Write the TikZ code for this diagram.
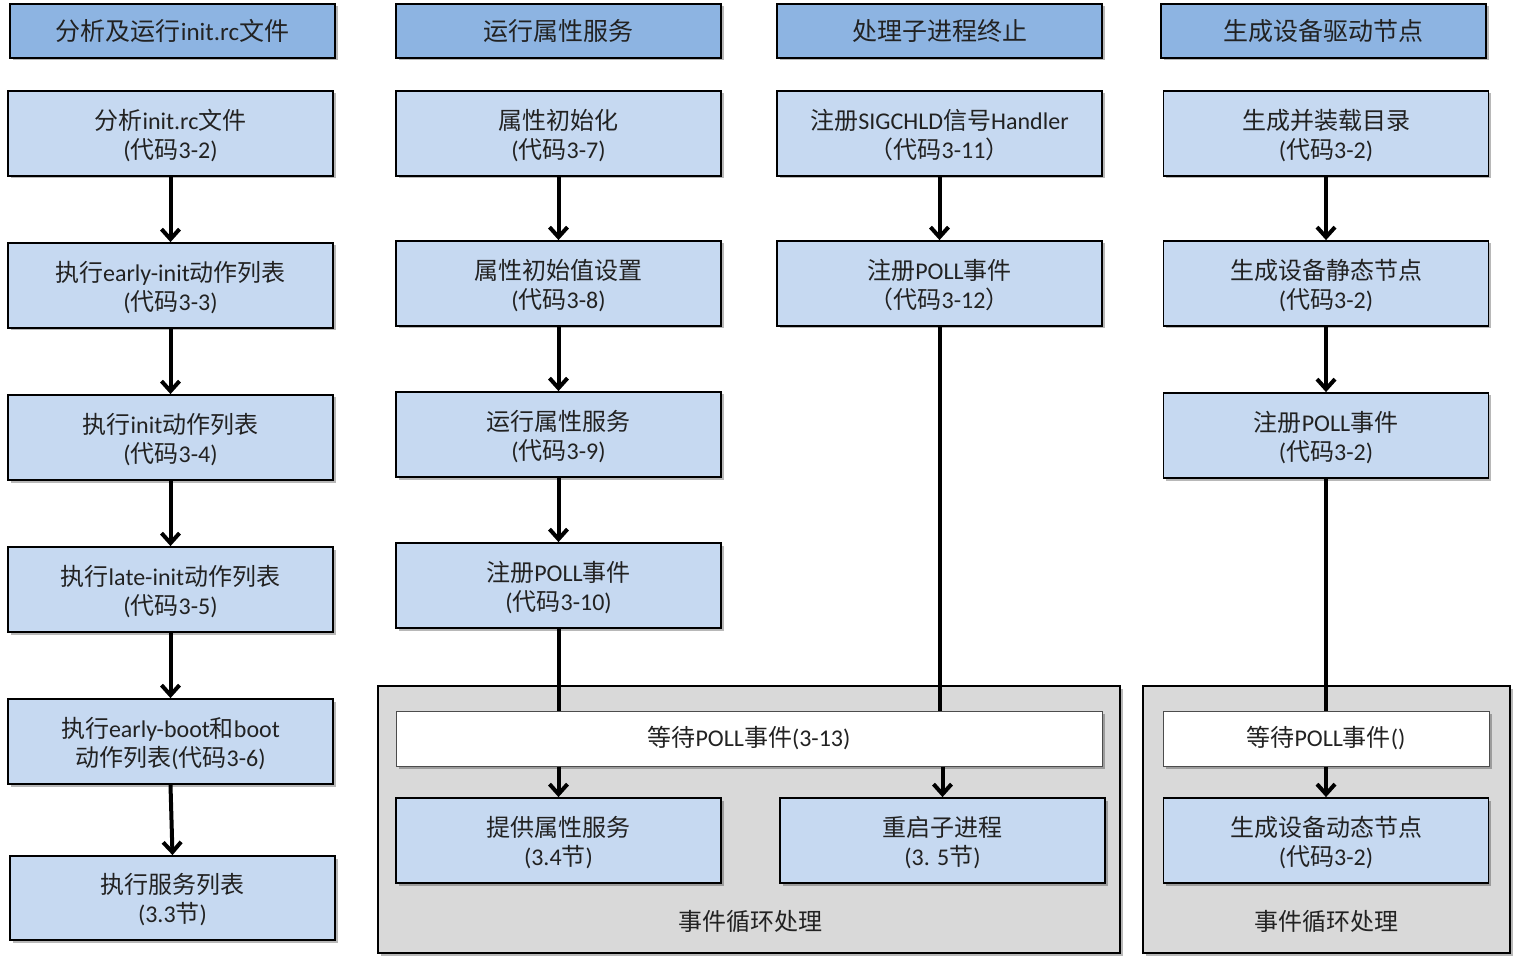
\documentclass[tikz,border=0pt]{standalone}
\usepackage{fontspec}
\setmainfont{Carlito}
\newfontfamily\zh{Noto Sans CJK SC}
\newcommand\Z[1]{{\zh #1}}
\usetikzlibrary{arrows.meta,shadows}
\definecolor{hdrblue}{HTML}{8DB4E2}
\definecolor{boxblue}{HTML}{C6D9F1}
\definecolor{grpgray}{HTML}{D9D9D9}
\definecolor{txt}{HTML}{222222}
\tikzset{
  shad/.style={drop shadow={shadow xshift=2.5pt,shadow yshift=-2.5pt,fill=black,opacity=0.28}},
  hdr/.style={draw=black,line width=1.8pt,fill=hdrblue,shad,minimum width=325pt,minimum height=54pt,
    inner sep=0pt,text=txt,font=\fontsize{25}{30}\selectfont},
  stepbox/.style={draw=black,line width=1.8pt,fill=boxblue,shad,minimum width=325pt,minimum height=85pt,
    inner sep=0pt,align=center,text=txt,font=\fontsize{24}{29}\selectfont,text depth=-2pt},
  waitbox/.style={draw=black!70,line width=1pt,fill=white,shad,minimum height=55pt,inner sep=0pt,text=txt,
    font=\fontsize{24}{29}\selectfont},
  grp/.style={draw=black,line width=1.8pt,fill=grpgray,shad},
  arr/.style={line width=4pt,-{Straight Barb[length=10pt,width=18pt]}},
  ln/.style={line width=4pt},
}
\begin{document}
\begin{tikzpicture}[x=1pt,y=-1pt]
\useasboundingbox (0,0) rectangle (1518,965);
% groups
\node[grp,minimum width=742pt,minimum height=267pt,inner sep=0pt] (g1) at (749,819.5) {};
\node[grp,minimum width=367pt,minimum height=267pt,inner sep=0pt] (g2) at (1326.5,819.5) {};
% headers
\node[hdr] (h1) at (172.5,31) {\Z{分析及运行}init.rc\Z{文件}};
\node[hdr] (h2) at (558.5,31) {\Z{运行属性服务}};
\node[hdr] (h3) at (939.5,31) {\Z{处理子进程终止}};
\node[hdr] (h4) at (1323.5,31) {\Z{生成设备驱动节点}};
% column 1
\node[stepbox] (a1) at (170.5,133.5) {\Z{分析}init.rc\Z{文件}\\(\Z{代码}3-2)};
\node[stepbox] (a2) at (170.5,285.5) {\Z{执行}early-init\Z{动作列表}\\(\Z{代码}3-3)};
\node[stepbox] (a3) at (170.5,437.5) {\Z{执行}init\Z{动作列表}\\(\Z{代码}3-4)};
\node[stepbox] (a4) at (170.5,589.5) {\Z{执行}late-init\Z{动作列表}\\(\Z{代码}3-5)};
\node[stepbox] (a5) at (170.5,741.5) {\Z{执行}early-boot\Z{和}boot\\\Z{动作列表}(\Z{代码}3-6)};
\node[stepbox,minimum height=84pt] (a6) at (172.5,898) {\Z{执行服务列表}\\(3.3\Z{节})};
% column 2
\node[stepbox] (b1) at (558.5,133.5) {\Z{属性初始化}\\(\Z{代码}3-7)};
\node[stepbox] (b2) at (558.5,283.5) {\Z{属性初始值设置}\\(\Z{代码}3-8)};
\node[stepbox] (b3) at (558.5,434.5) {\Z{运行属性服务}\\(\Z{代码}3-9)};
\node[stepbox] (b4) at (558.5,585.5) {\Z{注册}POLL\Z{事件}\\(\Z{代码}3-10)};
% column 3
\node[stepbox] (c1) at (939.5,133.5) {\Z{注册}SIGCHLD\Z{信号}Handler\\\Z{（代码}3-11\Z{）}};
\node[stepbox] (c2) at (939.5,283.5) {\Z{注册}POLL\Z{事件}\\\Z{（代码}3-12\Z{）}};
% column 4
\node[stepbox] (d1) at (1326,133.5) {\Z{生成并装载目录}\\(\Z{代码}3-2)};
\node[stepbox] (d2) at (1326,283.5) {\Z{生成设备静态节点}\\(\Z{代码}3-2)};
\node[stepbox] (d3) at (1326,435.5) {\Z{注册}POLL\Z{事件}\\(\Z{代码}3-2)};
% middle group content
\node[waitbox,minimum width=706pt] (w1) at (749,738.5) {\Z{等待}POLL\Z{事件}(3-13)};
\node[stepbox] (b5) at (558.5,840.5) {\Z{提供属性服务}\\(3.4\Z{节})};
\node[stepbox] (c3) at (942.5,840.5) {\Z{重启子进程}\\(3. 5\Z{节})};
\node[text=txt,font=\fontsize{24}{29}\selectfont] (l1) at (750,921) {\Z{事件循环处理}};
% right group content
\node[waitbox,minimum width=326pt] (w2) at (1326,738.5) {\Z{等待}POLL\Z{事件}()};
\node[stepbox] (d4) at (1326,840.5) {\Z{生成设备动态节点}\\(\Z{代码}3-2)};
\node[text=txt,font=\fontsize{24}{29}\selectfont] (l2) at (1326,921) {\Z{事件循环处理}};
% connectors
\draw[arr] (a1) -- (a2);
\draw[arr] (a2) -- (a3);
\draw[arr] (a3) -- (a4);
\draw[arr] (a4) -- (a5);
\draw[arr] (a5.south) -- (a6.north);
\draw[arr] (b1) -- (b2);
\draw[arr] (b2) -- (b3);
\draw[arr] (b3) -- (b4);
\draw[arr] (c1) -- (c2);
\draw[arr] (d1) -- (d2);
\draw[arr] (d2) -- (d3);
\draw[ln] (b4.south) -- (b4.south |- w1.north);
\draw[arr] (b5.north |- w1.south) -- (b5.north);
\draw[ln] (c2.south) -- (c2.south |- w1.north);
\draw[arr] (c3.north |- w1.south) -- (c3.north);
\draw[ln] (d3.south) -- (w2.north);
\draw[arr] (w2.south) -- (d4.north);
\end{tikzpicture}
\end{document}
